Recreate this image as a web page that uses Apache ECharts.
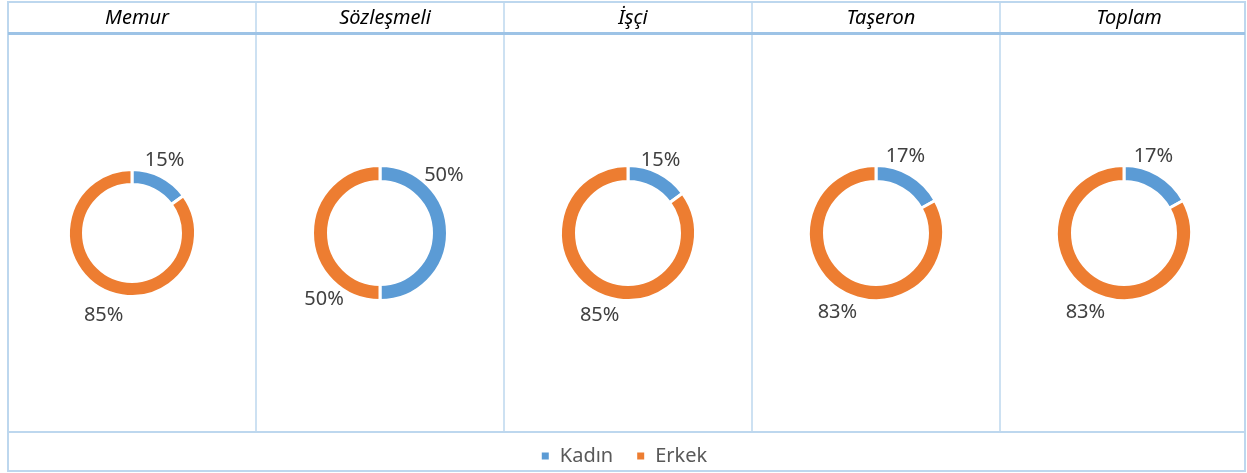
<!DOCTYPE html>
<html>
<head>
<meta charset="utf-8">
<script src="https://cdn.jsdelivr.net/npm/echarts@6/dist/echarts.min.js"></script>
<style>
  html, body { margin: 0; padding: 0; background: #fff; }
  #main { width: 1247px; height: 473px; }
</style>
</head>
<body>
<div id="main"></div>
<script>
// data (percent)
var categories = ['Memur', 'Sözleşmeli', 'İşçi', 'Taşeron', 'Toplam'];
var kadin = [15, 50, 15, 17, 17];
var erkek = [85, 50, 85, 83, 83];
var legendNames = ['Kadın', 'Erkek'];

// layout of the table cells
var colLeft = 8, colWidth = 248, pieY = 233;
var borderLight = '#BDD7EE', borderDark = '#9DC3E6';
// label spots: [angle from top clockwise, distance from center] per slice
var labelSpots = [
    [[24, 80], [199, 87]],
    [[48, 86], [220, 87]],
    [[24, 80], [199, 87]],
    [[21, 82], [206, 88]],
    [[21, 82], [206, 88]]
];

var myChart = echarts.init(document.getElementById('main'));

function colCenter(i) {
    return colLeft + colWidth * i + colWidth / 2;
}

var series = [];
var titles = [];
categories.forEach(function (name, i) {
    var big = i > 0;
    series.push({
        name: name,
        type: 'pie',
        center: [colCenter(i), pieY],
        radius: big ? [51.5, 67.5] : [48.5, 63.5],
        startAngle: 90,
        clockwise: true,
        silent: true,
        itemStyle: {
            borderColor: '#fff',
            borderWidth: 3
        },
        label: {
            show: true,
            position: 'outside',
            overflow: 'none',
            color: '#404040',
            fontFamily: 'Noto Sans',
            fontSize: 20,
            formatter: function (p) {
                return p.value + '%';
            }
        },
        labelLine: { show: false },
        labelLayout: function (p) {
            var s = labelSpots[p.seriesIndex][p.dataIndex];
            var a = s[0] * Math.PI / 180;
            return {
                x: colCenter(p.seriesIndex) + s[1] * Math.sin(a),
                y: pieY - s[1] * Math.cos(a),
                align: 'center',
                verticalAlign: 'middle'
            };
        },
        data: [
            { name: legendNames[0], value: kadin[i] },
            { name: legendNames[1], value: erkek[i] }
        ]
    });
    titles.push({
        text: name,
        left: colCenter(i),
        top: 3,
        textAlign: 'center',
        textStyle: {
            fontFamily: 'Noto Sans',
            fontStyle: 'italic',
            fontWeight: 'normal',
            fontSize: 20,
            color: '#000'
        }
    });
});

// table lines
var graphics = [];
graphics.push({
    type: 'rect',
    shape: { x: 8, y: 2, width: 1237, height: 469 },
    style: { fill: null, stroke: borderLight, lineWidth: 2 },
    z: -1
});
for (var k = 1; k < categories.length; k++) {
    var x = colLeft + colWidth * k;
    graphics.push({
        type: 'line',
        shape: { x1: x, y1: 2, x2: x, y2: 432 },
        style: { stroke: borderLight, lineWidth: 1.5 },
        z: -1
    });
}
graphics.push({
    type: 'line',
    shape: { x1: 8, y1: 33.5, x2: 1245, y2: 33.5 },
    style: { stroke: borderDark, lineWidth: 3 },
    z: -1
});
graphics.push({
    type: 'line',
    shape: { x1: 8, y1: 432, x2: 1245, y2: 432 },
    style: { stroke: borderLight, lineWidth: 2 },
    z: -1
});

var option = {
    animation: false,
    color: ['#5B9BD5', '#ED7D31'],
    title: titles,
    legend: {
        data: legendNames,
        left: 'center',
        top: 441,
        icon: 'rect',
        itemWidth: 9,
        itemHeight: 9,
        itemGap: 22,
        selectedMode: false,
        textStyle: {
            color: '#595959',
            fontFamily: 'Noto Sans',
            fontSize: 20,
            padding: [0, 0, 0, 5]
        }
    },
    graphic: graphics,
    series: series
};
myChart.setOption(option);
</script>
</body>
</html>
